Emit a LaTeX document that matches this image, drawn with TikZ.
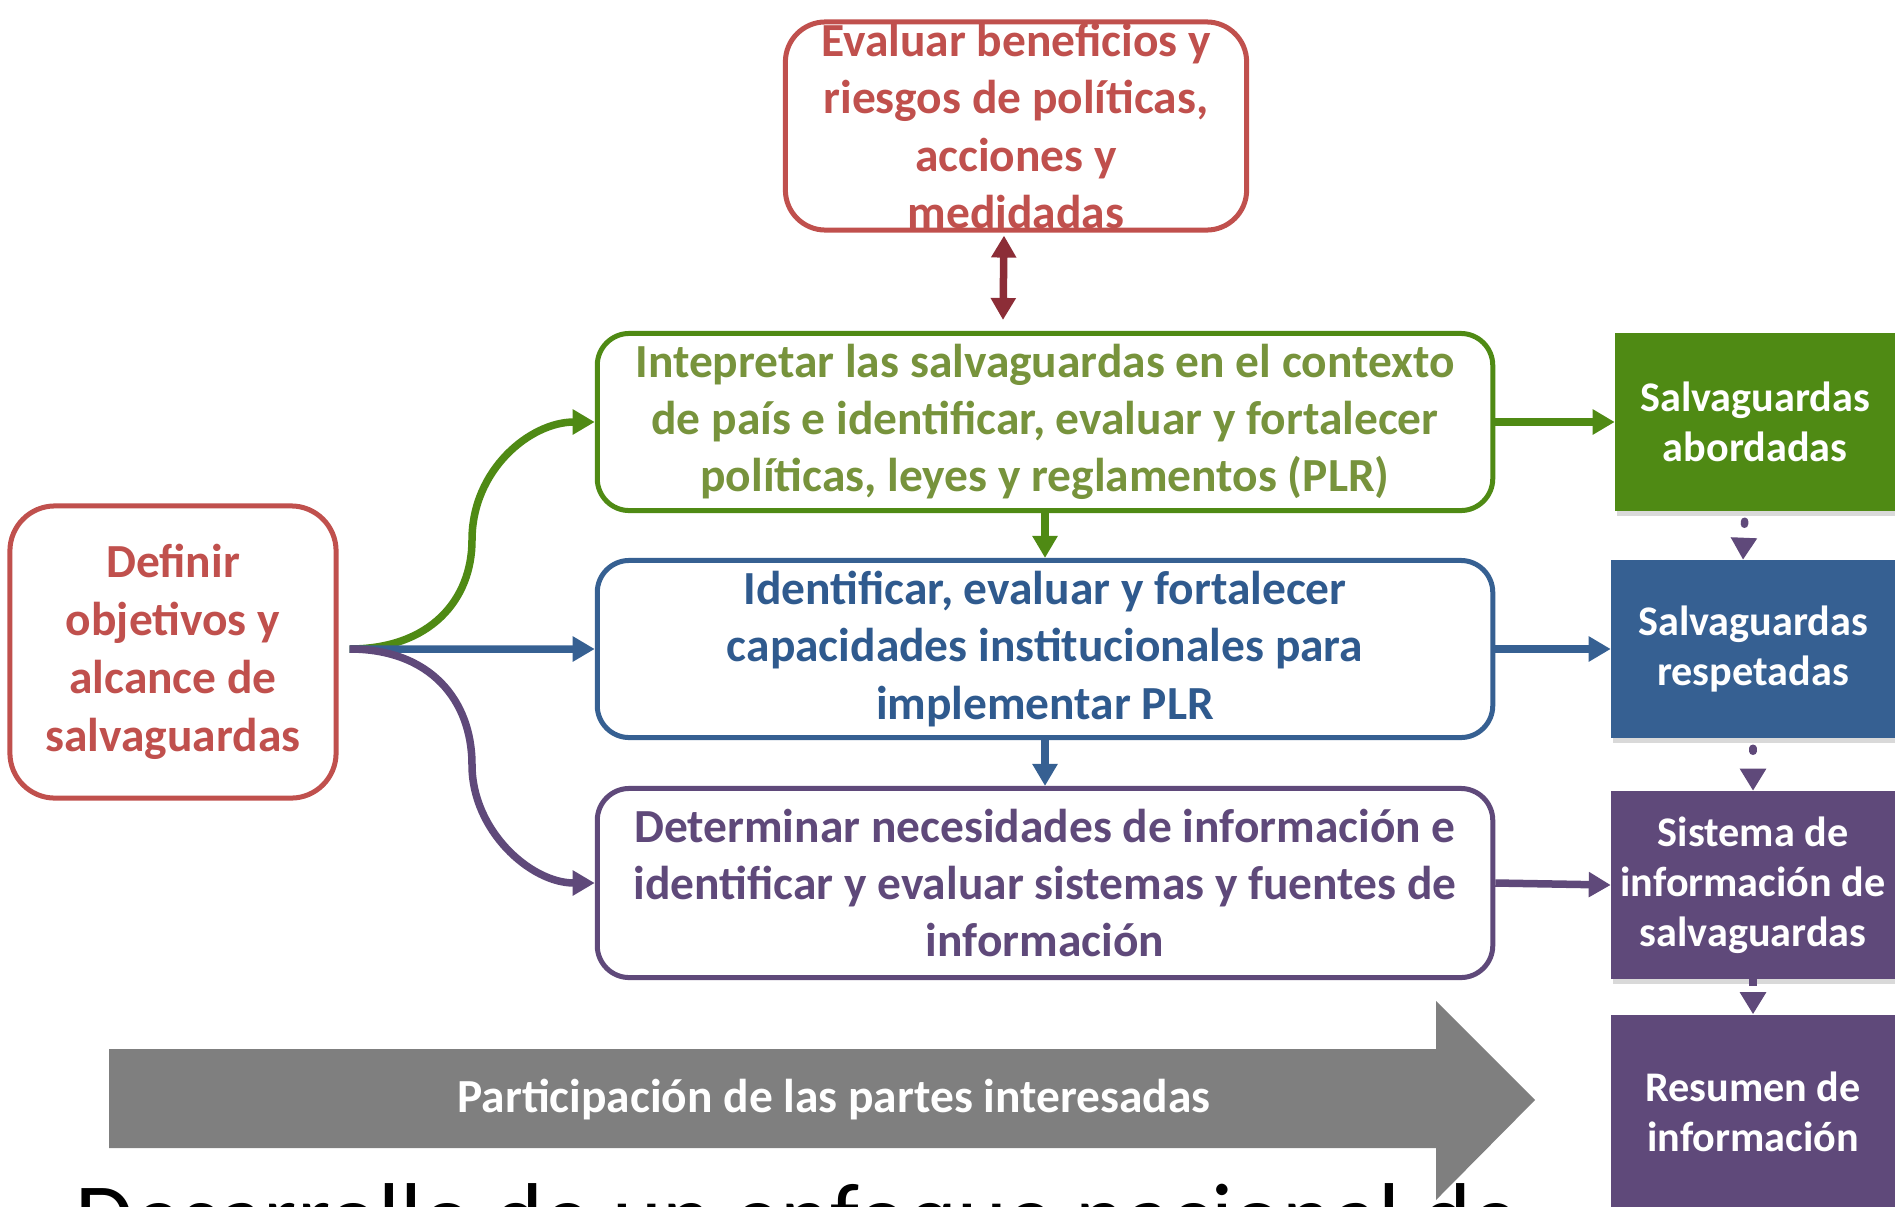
\documentclass[tikz,border=0pt]{standalone}
\usepackage{fontspec}
\setmainfont{Carlito}
\usetikzlibrary{arrows.meta,shadows}

\definecolor{redc}{HTML}{C0504D}
\definecolor{darkredc}{HTML}{8C2D37}
\definecolor{greenc}{HTML}{4F8A14}
\definecolor{greentext}{HTML}{77933C}
\definecolor{bluec}{HTML}{366092}
\definecolor{bluetext}{HTML}{2F5A8E}
\definecolor{purplec}{HTML}{5F497A}
\definecolor{grayc}{HTML}{7F7F7F}

\begin{document}
\begin{tikzpicture}[x=0.01cm,y=-0.01cm,
  stepbox/.style={draw, line width=0.05cm, rounded corners=0.32cm, fill=white, align=center,
    inner sep=0pt, font=\fontsize{13.5}{16.3}\selectfont\bfseries},
  resultbox/.style={draw=none, align=center, inner sep=0pt, text=white,
    font=\fontsize{12}{14.2}\selectfont\bfseries,
    drop shadow={shadow xshift=0.02cm, shadow yshift=-0.05cm, opacity=0.3}},
  flow/.style={line width=0.075cm, -{Triangle[length=0.22cm,width=0.24cm]}},
  twoway/.style={line width=0.075cm, draw=darkredc,
    {Triangle[length=0.22cm,width=0.24cm]}-{Triangle[length=0.22cm,width=0.24cm]}},
  chain/.style={draw=purplec, line width=0.075cm, line cap=round,
    dash pattern=on 0.03cm off 0.25cm, -{Triangle[length=0.22cm,width=0.25cm]}}
]

\useasboundingbox (0,0) rectangle (1895,1206);
\clip (0,0) rectangle (1895,1206);

% title under the band
\node[anchor=base west, inner sep=0pt, font=\fontsize{27}{30}\selectfont] (titulo) at (75,1249)
  {Desarrollo de un enfoque nacional de};

% participation band
\fill[grayc] (109,1049) -- (1436,1049) -- (1436,1001) -- (1535,1100) -- (1436,1200)
  -- (1436,1148) -- (109,1148) -- cycle;
\node[text=white, font=\fontsize{13.5}{16}\selectfont\bfseries] (partic) at (834,1100)
  {Participación de las partes interesadas};

% boxes
\node[stepbox, draw=redc, text=redc, minimum width=4.61cm, minimum height=2.08cm,
  rounded corners=0.4cm] (evaluar) at (1016,126)
  {Evaluar beneficios y\\riesgos de políticas,\\acciones y\\medidadas};
\node[stepbox, draw=redc, text=redc, minimum width=3.26cm, minimum height=2.92cm,
  rounded corners=0.45cm, font=\fontsize{13.5}{16.5}\selectfont\bfseries] (definir) at (173,652)
  {Definir\\objetivos y\\alcance de\\salvaguardas};

\node[stepbox, draw=greenc, text=greentext, minimum width=8.95cm, minimum height=1.77cm] (interp) at (1045,422)
  {Intepretar las salvaguardas en el contexto\\de país e identificar, evaluar y fortalecer\\políticas, leyes y reglamentos (PLR)};
\node[stepbox, draw=bluec, text=bluetext, minimum width=8.95cm, minimum height=1.77cm] (capac) at (1045,649)
  {Identificar, evaluar y fortalecer\\capacidades institucionales para\\implementar PLR};
\node[stepbox, draw=purplec, text=purplec, minimum width=8.95cm, minimum height=1.89cm] (necesid) at (1045,883)
  {Determinar necesidades de información e\\identificar y evaluar sistemas y fuentes de\\información};

\node[resultbox, fill=greenc, minimum width=2.79cm, minimum height=1.77cm] (abord) at (1755,422)
  {Salvaguardas\\abordadas};
\node[resultbox, fill=bluec, minimum width=2.83cm, minimum height=1.77cm] (resp) at (1753,649)
  {Salvaguardas\\respetadas};
\node[resultbox, fill=purplec, minimum width=2.83cm, minimum height=1.87cm] (sistema) at (1753,885)
  {Sistema de\\información de\\salvaguardas};
\node[resultbox, fill=purplec, minimum width=2.83cm, minimum height=1.94cm] (resumen) at (1753,1112)
  {Resumen de\\información};

% connectors
\coordinate (fork) at ([xshift=0.11cm,yshift=0.03cm]definir.east);
\draw[flow, draw=greenc] (fork) .. controls (430,649) and (472,600) .. (472,540)
  .. controls (472,470) and (530,422) .. (interp.west);
\draw[flow, draw=bluec] (fork) -- (capac.west);
\draw[flow, draw=purplec] (fork) .. controls (430,649) and (472,700) .. (472,765)
  .. controls (472,830) and (530,883) .. (necesid.west);

\draw[twoway] ([xshift=-0.12cm,yshift=-0.03cm]evaluar.south) -- ([xshift=-0.42cm,yshift=0.11cm]interp.north);
\draw[flow, draw=greenc] (interp.south) -- (capac.north);
\draw[flow, draw=bluec] (capac.south) -- (necesid.north);

\draw[flow, draw=greenc] (interp.east) -- (abord.west);
\draw[flow, draw=bluec] (capac.east) -- (resp.west);
\draw[flow, draw=purplec] (necesid.east) -- (sistema.west);

\draw[chain, shorten <=0.1cm] ([xshift=-0.1cm]abord.south) -- ([xshift=-0.1cm]resp.north);
\draw[chain, shorten <=0.1cm] (resp.south) -- (sistema.north);
\draw[chain, line cap=butt, dash pattern=on 0.07cm off 0.2cm] (sistema.south) -- (resumen.north);

\end{tikzpicture}
\end{document}
